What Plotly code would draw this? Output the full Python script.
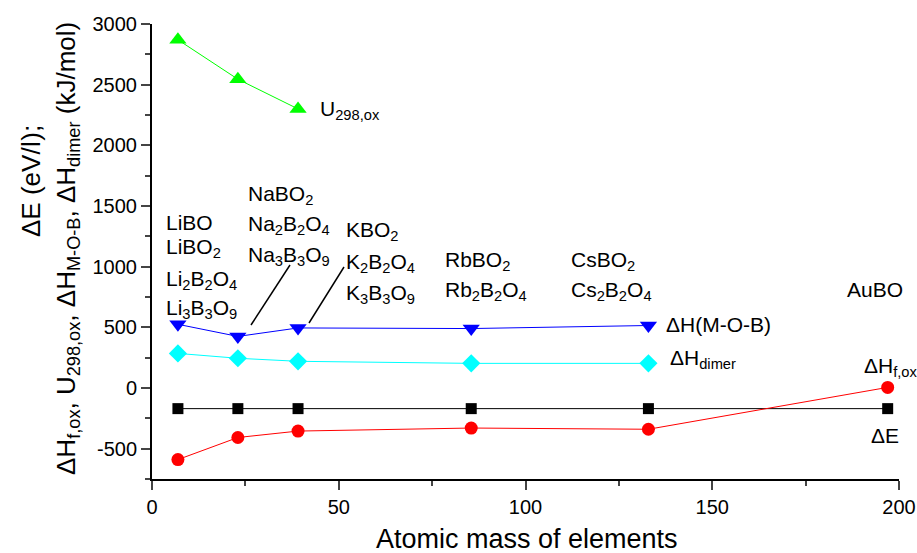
import plotly.graph_objects as go

# ---- data ----
mass_U = [6.94, 22.99, 39.10]
U298 = [2870, 2545, 2300]

mass = [6.94, 22.99, 39.10, 85.47, 132.91]
dH_MOB = [525, 425, 495, 490, 515]
dH_dimer = [285, 245, 220, 203, 203]

mass_all = [6.94, 22.99, 39.10, 85.47, 132.91, 196.97]
dE = [-170, -170, -170, -170, -170, -170]
dHf = [-590, -408, -355, -330, -340, 5]

xticks = [0, 50, 100, 150, 200]
yticks = [-500, 0, 500, 1000, 1500, 2000, 2500, 3000]
yticklabels = ["-500", "0", "500", "1000", "1500", "2000", "2500", "3000"]

FONT = "Liberation Sans, Arial, sans-serif"

# pixel -> data helpers for annotation placement
L, R, T, B = 152, 18, 24, 74
W, H = 917, 553
XR = (0, 200)
YR = (-750, 3000)
def dx(px):
    return XR[0] + (px - L) / (W - L - R) * (XR[1] - XR[0])
def dy(py):
    return YR[1] - (py - T) / (H - T - B) * (YR[1] - YR[0])
def pxp(px):
    return (px - L) / (W - L - R)
def pyp(py):
    return 1 - (py - T) / (H - T - B)

fig = go.Figure()
line_w = 1
fig.add_trace(go.Scatter(x=mass_U, y=U298, mode="lines+markers",
                         line=dict(color="#00ff00", width=line_w),
                         marker=dict(symbol="triangle-up", size=15, color="#00ff00")))
fig.add_trace(go.Scatter(x=mass, y=dH_MOB, mode="lines+markers",
                         line=dict(color="#0000ff", width=line_w),
                         marker=dict(symbol="triangle-down", size=15, color="#0000ff")))
fig.add_trace(go.Scatter(x=mass, y=dH_dimer, mode="lines+markers",
                         line=dict(color="#00ffff", width=line_w),
                         marker=dict(symbol="diamond", size=14, color="#00ffff")))
fig.add_trace(go.Scatter(x=mass_all, y=dE, mode="lines+markers",
                         line=dict(color="#000000", width=line_w),
                         marker=dict(symbol="square", size=11, color="#000000")))
fig.add_trace(go.Scatter(x=mass_all, y=dHf, mode="lines+markers",
                         line=dict(color="#ff0000", width=line_w),
                         marker=dict(symbol="circle", size=13, color="#ff0000")))

labels = [
    ("LiBO", 164, 222), ("LiBO<sub>2</sub>", 164, 248),
    ("Li<sub>2</sub>B<sub>2</sub>O<sub>4</sub>", 164, 280),
    ("Li<sub>3</sub>B<sub>3</sub>O<sub>9</sub>", 164, 309),
    ("NaBO<sub>2</sub>", 246, 195),
    ("Na<sub>2</sub>B<sub>2</sub>O<sub>4</sub>", 246, 225),
    ("Na<sub>3</sub>B<sub>3</sub>O<sub>9</sub>", 246, 256),
    ("KBO<sub>2</sub>", 344, 231),
    ("K<sub>2</sub>B<sub>2</sub>O<sub>4</sub>", 344, 263),
    ("K<sub>3</sub>B<sub>3</sub>O<sub>9</sub>", 344, 294),
    ("RbBO<sub>2</sub>", 443, 261),
    ("Rb<sub>2</sub>B<sub>2</sub>O<sub>4</sub>", 443, 291),
    ("CsBO<sub>2</sub>", 569, 261),
    ("Cs<sub>2</sub>B<sub>2</sub>O<sub>4</sub>", 569, 291),
    ("AuBO", 845, 289),
    ("U<sub>298,ox</sub>", 318, 110),
    ("ΔH(M-O-B)", 664, 324),
    ("ΔH<sub>dimer</sub>", 668, 359),
    ("ΔH<sub>f,ox</sub>", 862, 367),
    ("ΔE", 869, 435),
]
anns = []
for txt, px, py in labels:
    anns.append(dict(text=txt, x=dx(px), y=dy(py), xref="x", yref="y",
                     xanchor="left", yanchor="middle", showarrow=False,
                     font=dict(family=FONT, size=21, color="black")))

# y-axis title (two rotated lines)
anns.append(dict(text="ΔE (eV/ǀ);", x=pxp(31), y=pyp(181), xref="paper", yref="paper",
                 xanchor="center", yanchor="middle", textangle=-90, showarrow=False,
                 font=dict(family=FONT, size=26, color="black")))
anns.append(dict(text="ΔH<sub>f,ox</sub>, U<sub>298,ox</sub>, ΔH<sub>M-O-B</sub>, ΔH<sub>dimer</sub> (kJ/mol)",
                 x=pxp(67), y=pyp(249), xref="paper", yref="paper",
                 xanchor="center", yanchor="middle", textangle=-90, showarrow=False,
                 font=dict(family=FONT, size=26, color="black")))
# x-axis title
anns.append(dict(text="Atomic mass of elements", x=pxp(527), y=pyp(539), xref="paper", yref="paper",
                 xanchor="center", yanchor="middle", showarrow=False,
                 font=dict(family=FONT, size=27, color="black")))

shapes = [
    dict(type="line", xref="x", yref="y", x0=dx(251), y0=dy(325), x1=dx(290), y1=dy(265),
         line=dict(color="black", width=1.5)),
    dict(type="line", xref="x", yref="y", x0=dx(309), y0=dy(323), x1=dx(344), y1=dy(267),
         line=dict(color="black", width=1.5)),
]

fig.update_layout(
    width=W, height=H, showlegend=False,
    paper_bgcolor="white", plot_bgcolor="white",
    margin=dict(l=L, r=R, t=T, b=B, pad=0, autoexpand=False),
    annotations=anns, shapes=shapes,
    font=dict(family=FONT, size=20, color="black"),
)
fig.update_xaxes(range=list(XR), tickvals=xticks, ticks="outside", ticklen=9, tickwidth=2,
                 showline=True, linewidth=2, linecolor="black", showgrid=False, zeroline=False,
                 automargin=False,
                 tickfont=dict(family=FONT, size=20, color="black"),
                 minor=dict(ticks="outside", ticklen=5, tickwidth=2, dtick=25, showgrid=False))
fig.update_yaxes(range=list(YR), tickvals=yticks, ticktext=yticklabels, ticks="outside", ticklen=9,
                 tickwidth=2, showline=True, linewidth=2, linecolor="black", showgrid=False,
                 zeroline=False, automargin=False, tickfont=dict(family=FONT, size=20, color="black"),
                 minor=dict(ticks="outside", ticklen=5, tickwidth=2, dtick=250, showgrid=False))

fig.write_html("out.html")
